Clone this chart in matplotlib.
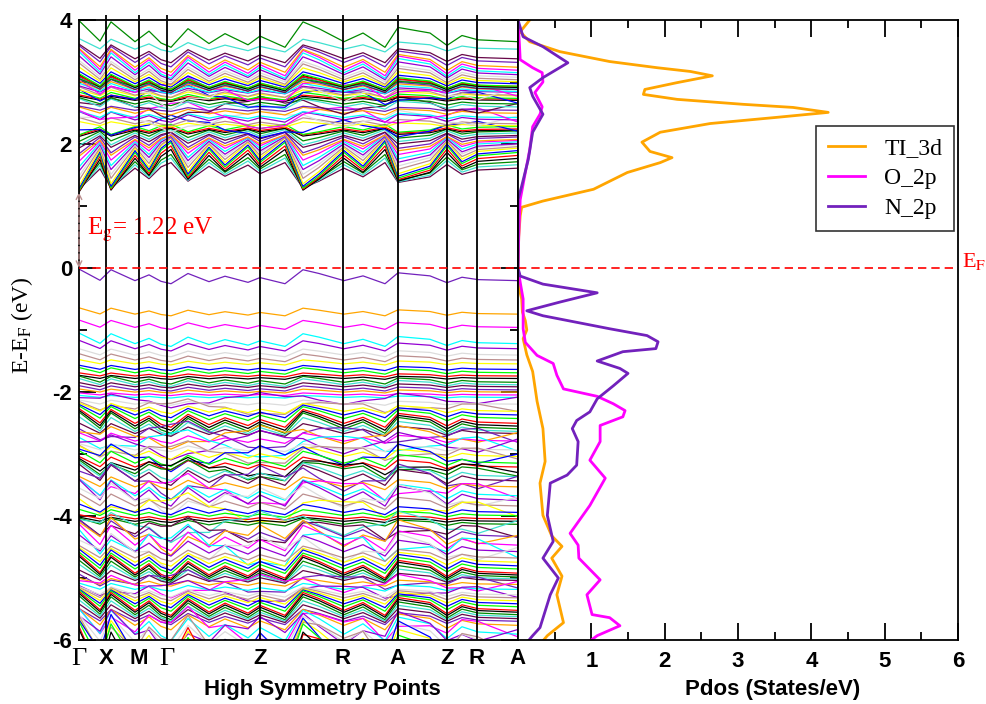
#!/usr/bin/python3
import numpy as np
import matplotlib.pyplot as plt

plt.rcParams['font.family'] = ['Liberation Sans', 'DejaVu Sans']
plt.rcParams['axes.unicode_minus'] = False
plt.rcParams['mathtext.fontset'] = 'stix'

# k-path (distance along the path, arbitrary units) and high symmetry points
K_POS = [0, 21, 32, 56, 70, 82, 92, 109, 130, 146, 169, 181,
         206, 224, 240, 265, 284, 306, 319, 351, 368, 383, 399, 439]
HS_POS = [0, 27, 60, 88, 181, 264, 319, 368, 398, 439]
HS_LABELS = ['Γ', 'X', 'M', 'Γ', 'Z', 'R', 'A', 'Z', 'R', 'A']

# band shapes (deviation in eV at each k point)
ZIG = [0.26, -0.07, 0.24, -0.08, 0.09, -0.10, -0.17, 0.13, -0.11, 0.05, -0.13, 0.01,
       -0.17, 0.24, 0.13, -0.08, 0.06, -0.17, 0.15, 0.06, -0.14, 0.02, -0.05, -0.08]
ARC = [0.00, -0.04, -0.06, -0.02, 0.03, 0.07, 0.10, 0.08, 0.03, -0.03, -0.09, -0.12,
       -0.08, -0.03, 0.02, 0.06, 0.02, -0.05, -0.09, -0.04, 0.00, 0.03, 0.05, -0.06]

# conduction bands, lowest first: level, ZIG weight, ARC weight
CB_BASE = [1.53, 1.57, 1.61, 1.64, 1.68, 1.72, 1.75, 1.79, 1.83, 1.87,
           1.90, 1.94, 1.98, 2.01, 2.05, 2.09, 2.13, 2.17, 2.20, 2.22,
           2.25, 2.28, 2.31, 2.35, 2.38, 2.42, 2.45, 2.49, 2.52, 2.56,
           2.59, 2.63, 2.67, 2.72, 2.74, 2.76, 2.78, 2.80, 2.82, 2.84,
           2.86, 2.88, 2.90, 2.91, 2.92, 2.93, 2.94, 2.95, 2.96, 2.97,
           2.98, 3.02, 3.06, 3.10, 3.14, 3.19, 3.23, 3.27, 3.31, 3.38,
           3.43, 3.57, 3.73]
CB_ZIG = [-1.0, -1.2, -1.3, -1.6, -1.7, -1.8, -1.8, -1.8, -1.6, -1.5,
          -1.3, -1.2, -1.0, -0.8, -0.8, -0.6, -0.6, -0.5, -0.3, -0.3,
          -0.4, -0.2, 0.2, 0.3, 0.2, 0.4, 0.3, 0.2, 0.3, 0.2,
          0.3, 0.4, 0.3, 0.2, 0.2, 0.3, 0.4, 0.3, 0.4, 0.5,
          0.3, 0.4, 0.5, 0.4, 0.5, 0.6, 0.5, 0.4, 0.6, 0.5,
          0.6, 0.6, 0.7, 0.8, 0.8, 0.9, 1.0, 1.0, 0.9, 0.8,
          0.7, 0.5, 1.0]
CB_ARC = [0, 0, 0, 0, 0, 0, 0, 0, 0, 0,
          0, 0, 0, 0, 0, 0, 0, 0, 0, 0,
          0, 1.5, 0, 0, -1.5, 0, 0, 2.0, 0, 0,
          -1.5, 0, 0, 0, 0, 0, 1.5, 0, 0, -2.0,
          0, 0, 1.5, 0, 0, 0, 0, 0, 0, 0,
          0, 0, 0, 0, 0, 0, 0, 0, 0, 0,
          0, 0, 0]

# valence bands, highest first
VB_BASE = [-0.16, -0.72, -0.93, -1.18, -1.27, -1.38, -1.46, -1.53, -1.62, -1.67,
           -1.73, -1.77, -1.82, -1.86, -1.90, -1.95, -1.99, -2.04, -2.08, -2.13,
           -2.18, -2.23, -2.28, -2.33, -2.38, -2.45, -2.49, -2.53, -2.58, -2.63,
           -2.67, -2.72, -2.76, -2.81, -2.86, -2.91, -2.96, -3.00, -3.05, -3.10,
           -3.17, -3.20, -3.25, -3.31, -3.37, -3.43, -3.49, -3.55, -3.61, -3.67,
           -3.73, -3.79, -3.85, -3.91, -3.97, -4.03, -4.07, -4.11, -4.16, -4.21,
           -4.27, -4.33, -4.39, -4.45, -4.51, -4.57, -4.63, -4.69, -4.74, -4.79,
           -4.85, -4.88, -4.92, -4.96, -5.00, -5.04, -5.08, -5.12, -5.16, -5.20,
           -5.24, -5.28, -5.32, -5.36, -5.40, -5.45, -5.48, -5.52, -5.56, -5.60,
           -5.65, -5.70, -5.75, -5.81, -5.87, -5.93, -6.00, -6.07, -6.14, -6.22,
           -6.30, -6.40]
VB_ZIG = [0.55, 0.3, 0.35, 0.5, 0.4, 0.3, 0.3, 0.2, 0.2, 0.25,
          0.15, 0.15, 0.3, 0.3, 0.2, 0.2, 0.15, 0.1, 0.1, 0.15,
          0.2, 0.3, 0.4, 0.5, 0.6, 0.7, 0.75, 0.8, 0.7, 0.5,
          0.3, 0.3, 0.4, 0.3, 0.2, 0.3, 0.4, 0.5, 0.5, 0.6,
          0.5, 0.5, 0.6, 0.7, 0.8, 0.6, 0.5, 0.6, 0.8, 1.0,
          0.7, 0.6, 0.5, 0.4, 0.3, 0.2, 0.2, 0.3, 0.4, 0.6,
          0.8, 0.9, 1.0, 0.9, 0.8, 0.7, 0.6, 0.7, 0.8, 0.8,
          0.9, 0.9, 0.8, 0.7, 0.5, 0.4, 0.3, 0.3, 0.3, 0.3,
          0.4, 0.5, 0.6, 0.7, 0.8, 0.9, 0.9, 0.9, 0.8, 0.7,
          0.6, 0.8, 1.0, 1.2, 1.0, 1.3, 1.5, 1.6, 1.8, 2.0,
          2.0, 2.2]
VB_ARC = [0, 0, 0, 0, 0, 0, 0, 0, 0, 0,
          0, 0, 0, 0, 0, 0, 0, 0, 0, -1.0,
          0, 1.0, 0, 0, 0, 0, 0, 0, 0, 0,
          2.0, -1.5, 0, 2.0, -2.0, 0, 1.5, 0, -1.5, 0,
          0, 1.0, 1.0, 0, 0, -2.0, 0, 2.0, 0, 0,
          -1.5, 0, 2.0, 0, 0, 0, 0, 0, -2.0, 1.5,
          0, -1.5, 0, 2.5, 0, -2.0, 0, 0, 0, 0,
          0, 0, 0, 0, 0, 1.5, 0, -1.5, 0, 1.5,
          0, 0, 0, 0, 0, 0, 0, 0, 0, 0,
          0, 0, 2.0, 0, -2.0, 0, 2.5, 0, -2.0, 0,
          3.0, 0]

# grace colour cycle
GRACE = ['#000000', '#ff0000', '#00ff00', '#0000ff', '#ffff00', '#bc8f8f', '#dcdcdc',
         '#9400d3', '#00ffff', '#ff00ff', '#ffa500', '#7221bc', '#670748', '#40e0d0', '#008b00']

# projected DOS
TI3D_E = [4.0, 3.81, 3.65, 3.49, 3.33, 3.23, 3.17, 3.10, 2.99, 2.88, 2.80, 2.72, 2.64,
          2.59, 2.51, 2.43, 2.33, 2.19, 2.03, 1.88, 1.78, 1.70, 1.54, 1.27, 1.08, 0.98,
          0.84, 0.5, 0.0, -0.2, -0.35, -0.5, -0.71, -0.85, -1.0, -1.14, -1.4, -1.67,
          -2.15, -2.59, -3.12, -3.47, -3.99, -4.32, -4.49, -4.68, -4.97, -5.27, -5.72,
          -5.93, -6.0]
TI3D_D = [0.16, 0.03, 0.16, 0.57, 1.25, 1.90, 2.35, 2.65, 2.17, 1.73, 1.71, 2.17, 3.07,
          3.75, 4.23, 3.53, 2.62, 1.94, 1.69, 1.80, 2.10, 1.94, 1.49, 1.03, 0.34, 0.05,
          0.03, 0.01, 0.0, 0.0, 0.02, 0.05, 0.06, 0.1, 0.12, 0.07, 0.12, 0.2,
          0.26, 0.34, 0.37, 0.3, 0.34, 0.46, 0.6, 0.46, 0.6, 0.53, 0.62,
          0.4, 0.35]
O2P_E = [4.0, 3.6, 3.36, 3.23, 3.15, 3.0, 2.83, 2.6, 2.48, 2.28, 1.91, 1.54, 1.1, 0.5,
         0.0, -0.23, -0.5, -0.98, -1.2, -1.41, -1.54, -1.73, -1.95, -2.07, -2.19, -2.3,
         -2.4, -2.54, -2.8, -3.1, -3.39, -3.83, -4.28, -4.47, -4.68, -5.03, -5.27,
         -5.59, -5.64, -5.77, -5.93, -6.0]
O2P_D = [0.0, 0.02, 0.03, 0.2, 0.33, 0.34, 0.23, 0.33, 0.3, 0.2, 0.16, 0.1, 0.03, 0.01,
         0.0, 0.03, 0.07, 0.07, 0.1, 0.26, 0.48, 0.53, 0.62, 1.08, 1.3, 1.46,
         1.43, 1.12, 1.12, 0.98, 1.19, 0.98, 0.71, 0.82, 0.83, 1.12, 0.94,
         1.01, 1.25, 1.39, 1.08, 1.0]
N2P_E = [4.0, 3.73, 3.57, 3.31, 3.07, 2.91, 2.77, 2.48, 2.19, 1.75, 1.32, 1.1, 0.5, 0.0,
         -0.13, -0.26, -0.4, -0.55, -0.69, -0.77, -0.98, -1.09, -1.19, -1.3, -1.35,
         -1.5, -1.62, -1.7, -1.9, -2.11, -2.32, -2.46, -2.59, -2.8, -3.18, -3.34,
         -3.47, -3.99, -4.41, -4.68, -5.0, -5.27, -5.8, -5.93, -6.0]
N2P_D = [0.0, 0.07, 0.34, 0.68, 0.34, 0.16, 0.2, 0.34, 0.2, 0.14, 0.05, 0.0, 0.0, 0.0,
         0.03, 0.34, 1.08, 0.57, 0.12, 0.34, 1.25, 1.76, 1.91, 1.88, 1.43,
         1.08, 1.39, 1.5, 1.3, 1.08, 0.98, 0.8, 0.74, 0.82, 0.8, 0.67,
         0.44, 0.4, 0.48, 0.34, 0.55, 0.44, 0.3, 0.2, 0.15]

EG = 1.22

fig = plt.figure(figsize=(9.86, 7.04), dpi=100)
W, H = 986, 704
ax_b = fig.add_axes([79 / W, 64 / H, 439 / W, 620 / H])
ax_p = fig.add_axes([518 / W, 64 / H, 440 / W, 620 / H])

zig = np.array(ZIG)
arc = np.array(ARC)

# bands
for k, (b, z, a) in enumerate(zip(VB_BASE, VB_ZIG, VB_ARC)):
    ax_b.plot(K_POS, b + z * zig + a * arc, color=GRACE[(11 - k) % 15], lw=0.9)
for i, (b, z, a) in enumerate(zip(CB_BASE, CB_ZIG, CB_ARC)):
    ax_b.plot(K_POS, b + z * zig + a * arc, color=GRACE[(12 + i) % 15], lw=0.9)

ax_b.vlines(HS_POS[1:-1], -6, 4.08, color='black', lw=1.3, zorder=5, clip_on=False)
ax_b.axhline(0, color='red', ls=(0, (5, 3)), lw=1.2, zorder=6)

ax_b.set_xlim(0, 439)
ax_b.set_ylim(-6, 4)
ax_b.set_xticks(HS_POS)
ax_b.set_xticklabels(HS_LABELS)
for lab in ax_b.get_xticklabels():
    if lab.get_text() == 'Γ':
        lab.set_fontfamily('Liberation Serif')
        lab.set_fontsize(19)
    else:
        lab.set_fontweight('bold')
        lab.set_fontsize(16)
ax_b.tick_params(axis='x', length=0, pad=6)
ax_b.set_yticks([-6, -4, -2, 0, 2, 4])
ax_b.set_yticks([-5, -3, -1, 1, 3], minor=True)
ax_b.tick_params(axis='y', which='both', direction='in', left=True, right=True,
                 width=1.3, pad=5)
ax_b.tick_params(axis='y', which='major', length=12, labelsize=16)
ax_b.tick_params(axis='y', which='minor', length=6)
for lab in ax_b.get_yticklabels():
    lab.set_fontweight('bold')
for s in ax_b.spines.values():
    s.set_linewidth(1.3)

# band gap arrow
ax_b.annotate('', xy=(0, EG), xytext=(0, 0), annotation_clip=False,
              arrowprops=dict(arrowstyle='<->', color='#bc8f8f', lw=1.0, ls='--',
                              shrinkA=0, shrinkB=0))
ax_b.text(8, 0.61, r'E$_{\rm g}$= 1.22 eV', color='red', fontsize=18,
          family='Liberation Serif', va='center', ha='left')

# PDOS
ax_p.plot(TI3D_D, TI3D_E, color='#ffa500', lw=2, label='TI_3d')
ax_p.plot(O2P_D, O2P_E, color='#ff00ff', lw=2, label='O_2p')
ax_p.plot(N2P_D, N2P_E, color='#7221bc', lw=2, label='N_2p')
ax_p.axhline(0, color='red', ls=(0, (5, 3)), lw=1.2)
ax_p.set_xlim(0, 6)
ax_p.set_ylim(-6, 4)
ax_p.set_xticks([1, 2, 3, 4, 5, 6])
ax_p.set_xticks(np.arange(0.5, 6, 1.0), minor=True)
ax_p.tick_params(axis='x', which='both', direction='in', top=True, bottom=True,
                 width=1.3, pad=8)
ax_p.tick_params(axis='x', which='major', length=12, labelsize=16)
ax_p.tick_params(axis='x', which='minor', length=6)
ax_p.tick_params(axis='y', left=False, labelleft=False)
for lab in ax_p.get_xticklabels():
    lab.set_fontweight('bold')
for s in ax_p.spines.values():
    s.set_linewidth(1.3)

leg = ax_p.legend(loc='upper right', bbox_to_anchor=(0.991, 0.829), borderaxespad=0,
                  prop={'family': 'Liberation Serif', 'size': 17}, fancybox=False,
                  edgecolor='black', handlelength=1.6, labelspacing=0.35,
                  borderpad=0.5, handletextpad=0.8)
leg.get_frame().set_linewidth(1.2)

fig.text(962 / W, 1 - 267 / H, r'E$_{\rm F}$', color='red', fontsize=16,
         family='Liberation Serif', va='baseline', ha='left')
fig.text(22 / W, 1 - 325 / H, r'E-E$_{\rm F}$ (eV)', rotation=90, fontsize=17,
         family='Liberation Serif', va='center', ha='center')
fig.text(322 / W, 1 - 690 / H, 'High Symmetry Points', fontsize=16,
         fontweight='bold', ha='center', va='center')
fig.text(773 / W, 1 - 690 / H, 'Pdos (States/eV)', fontsize=16,
         fontweight='bold', ha='center', va='center')

fig.savefig('out.png', dpi=100)
